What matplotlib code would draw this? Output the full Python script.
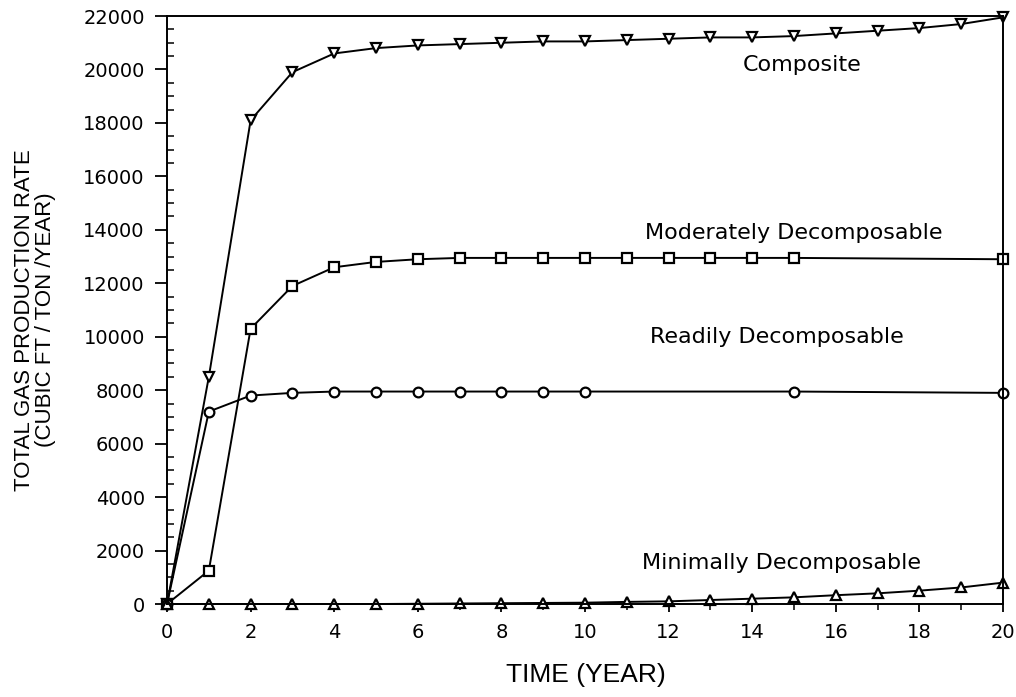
import matplotlib
matplotlib.use("Agg")
import matplotlib.pyplot as plt
from matplotlib.ticker import MultipleLocator

years = list(range(0, 21))

composite = [0, 8500, 18100, 19900, 20600, 20800, 20900, 20950, 21000, 21050,
             21050, 21100, 21150, 21200, 21200, 21250, 21350, 21450, 21550, 21700, 21950]

moderate_x = [0, 1, 2, 3, 4, 5, 6, 7, 8, 9, 10, 11, 12, 13, 14, 15, 20]
moderate = [0, 1250, 10300, 11900, 12600, 12800, 12900, 12950, 12950, 12950,
            12950, 12950, 12950, 12950, 12950, 12950, 12900]

readily_x = [0, 1, 2, 3, 4, 5, 6, 7, 8, 9, 10, 15, 20]
readily = [0, 7200, 7800, 7900, 7950, 7950, 7950, 7950, 7950, 7950, 7950, 7950, 7900]

minimal = [0, 0, 0, 0, 0, 0, 10, 20, 30, 40, 50, 80, 100, 150, 200, 250,
           330, 400, 500, 620, 800]

labels = ["Composite", "Moderately Decomposable", "Readily Decomposable", "Minimally Decomposable"]
label_pos = [(15.2, 20150), (15.0, 13900), (14.6, 10000), (14.7, 1530)]

fig = plt.figure(figsize=(10.16, 6.97), dpi=100)
ax = fig.add_axes([0.1644, 0.1334, 0.8228, 0.8436])

lw = 1.4
ms = 7
common = dict(color="black", lw=lw, ms=ms, mfc="white", mec="black", mew=1.6, clip_on=False)
ax.plot(years, composite, marker="v", **common)
ax.plot(moderate_x, moderate, marker="s", **common)
ax.plot(readily_x, readily, marker="o", **common)
ax.plot(years, minimal, marker="^", **common)

for t, (x, y) in zip(labels, label_pos):
    ax.text(x, y, t, ha="center", va="center", fontsize=16, fontfamily="DejaVu Sans")

ax.set_xlim(0, 20)
ax.set_ylim(0, 22000)
ax.xaxis.set_major_locator(MultipleLocator(2))
ax.xaxis.set_minor_locator(MultipleLocator(1))
ax.yaxis.set_major_locator(MultipleLocator(2000))
ax.yaxis.set_minor_locator(MultipleLocator(500))

ax.tick_params(axis="x", which="major", direction="out", length=6, width=1.3, labelsize=14, pad=8)
ax.tick_params(axis="x", which="minor", direction="out", length=4, width=1.1)
ax.tick_params(axis="y", which="major", direction="out", length=9, width=1.3, labelsize=14, pad=7)
ax.tick_params(axis="y", which="minor", direction="in", length=5, width=1.1)

for s in ax.spines.values():
    s.set_linewidth(1.4)

fig.text(586 / 1016, 1 - 675 / 697, "TIME (YEAR)", fontsize=19, family="Liberation Sans",
         ha="center", va="center")
fig.text(35 / 1016, 1 - 320 / 697, "TOTAL GAS PRODUCTION RATE\n(CUBIC FT / TON /YEAR)",
         fontsize=16, family="Liberation Sans", rotation=90, ha="center", va="center",
         multialignment="center", linespacing=0.95)

fig.savefig("out.png", dpi=100)
